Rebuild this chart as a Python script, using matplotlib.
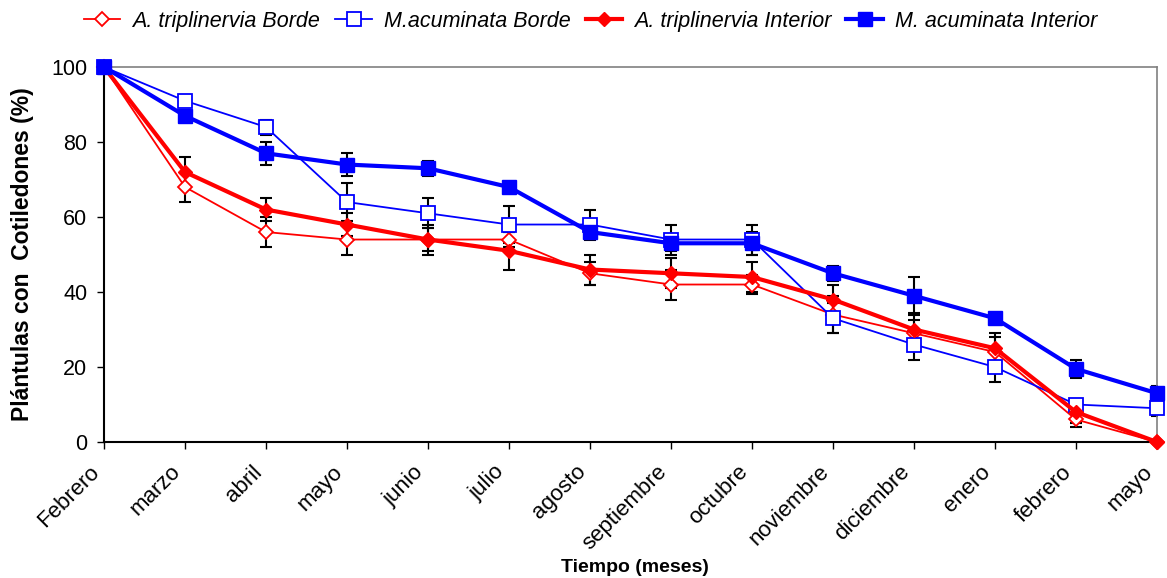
import numpy as np
import matplotlib
matplotlib.use("Agg")
import matplotlib.pyplot as plt

plt.rcParams['font.family'] = ['Liberation Sans', 'DejaVu Sans']

months = ["Febrero", "marzo", "abril", "mayo", "junio", "julio", "agosto",
          "septiembre", "octubre", "noviembre", "diciembre", "enero",
          "febrero", "mayo"]

# percentage of seedlings still carrying cotyledons
at_borde = [100, 68, 56, 54, 54, 54, 45, 42, 42, 34, 29, 24, 6, 0]
at_borde_err = [0, 4, 4, 4, 3, 2, 3, 4, 2.5, 5, 3.5, 4, 2, 0]

ma_borde = [100, 91, 84, 64, 61, 58, 58, 54, 54, 33, 26, 20, 10, 9]
ma_borde_err = [0, 1, 2, 5, 4, 5, 4, 4, 4, 4, 4, 4, 1, 2]

at_interior = [100, 72, 62, 58, 54, 51, 46, 45, 44, 38, 30, 25, 8, 0]
at_interior_err = [0, 4, 3, 3, 4, 5, 4, 4, 4, 4, 4.5, 4, 3, 0]

ma_interior = [100, 87, 77, 74, 73, 68, 56, 53, 53, 45, 39, 33, 19.5, 13]
ma_interior_err = [0, 1, 3, 3, 2, 1, 1, 2, 3, 2, 5, 1, 2.5, 2]

x = np.arange(len(months))

fig = plt.figure(figsize=(11.67, 5.78), dpi=100)
ax = fig.add_axes([0.0891, 0.2353, 0.9023, 0.6487])

series = [
    ("A. triplinervia Borde", at_borde, at_borde_err,
     dict(color="red", lw=1.3, marker="D", ms=7, mfc="white", mec="red", mew=1.3)),
    ("M.acuminata Borde", ma_borde, ma_borde_err,
     dict(color="blue", lw=1.3, marker="s", ms=10, mfc="white", mec="blue", mew=1.3)),
    ("A. triplinervia Interior", at_interior, at_interior_err,
     dict(color="red", lw=3.0, marker="D", ms=7.5, mfc="red", mec="red")),
    ("M. acuminata Interior", ma_interior, ma_interior_err,
     dict(color="blue", lw=3.0, marker="s", ms=10.5, mfc="blue", mec="blue")),
]

# error bars sit underneath the lines and markers
for name, vals, err, style in series:
    ax.errorbar(x, vals, yerr=err, fmt="none", ecolor="black",
                elinewidth=1.5, capsize=4, capthick=1.5, zorder=2)

for i, (name, vals, err, style) in enumerate(series):
    ax.plot(x, vals, label=name, zorder=3 + i, clip_on=False, **style)

ax.set_xlim(0, 13)
ax.set_ylim(0, 100)
ax.set_yticks(range(0, 101, 20))
ax.set_xticks(x)
ax.set_xticklabels(months, rotation=45, ha="right", fontsize=16)
ax.tick_params(axis="y", labelsize=15.5, direction="out", length=5, width=1, pad=7)
ax.tick_params(axis="x", direction="out", length=5, width=1, pad=9)

for side in ("top", "right"):
    ax.spines[side].set_color("#808080")
    ax.spines[side].set_linewidth(1.2)
for side in ("left", "bottom"):
    ax.spines[side].set_color("black")
    ax.spines[side].set_linewidth(1.5)

ax.set_ylabel("Plántulas con  Cotiledones (%)", fontsize=16.5, fontweight="bold")
ax.yaxis.set_label_coords(-0.066, 0.5)
ax.set_xlabel("Tiempo (meses)", fontsize=14, fontweight="bold")
ax.xaxis.set_label_coords(0.504, -0.312)

leg = fig.legend(loc="center", bbox_to_anchor=(0.506, 0.963), ncol=4,
                 frameon=False, fontsize=15.5, handlelength=1.7,
                 columnspacing=0.7, handletextpad=0.55)
for t in leg.get_texts():
    t.set_style("italic")

fig.savefig("out.png", dpi=100)
